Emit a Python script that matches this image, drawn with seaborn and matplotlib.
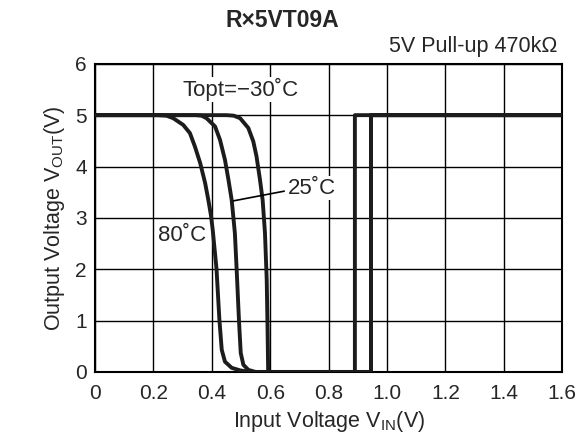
"""Output voltage vs input voltage for R×5VT09A detector."""

import numpy as np
import pandas as pd
import matplotlib
matplotlib.use("Agg")
import matplotlib.pyplot as plt
import seaborn as sns

# Transfer curves (VIN sweep up to 1.6 V)
vin_80 = [0.0, 0.215, 0.245, 0.268, 0.302, 0.325, 0.342, 0.36, 0.377, 0.388, 0.397,
          0.403, 0.416, 0.426, 0.434, 0.445, 0.468, 0.497, 0.53,
          0.89, 0.89, 1.6]
vout_80 = [5.0, 5.0, 4.99, 4.94, 4.81, 4.65, 4.39, 4.07, 3.68, 3.35, 3.05,
           2.77, 2.01, 1.01, 0.43, 0.20, 0.08, 0.03, 0.0,
           0.0, 5.0, 5.0]

vin_25 = [0.0, 0.345, 0.365, 0.382, 0.411, 0.428, 0.445, 0.457, 0.468, 0.474,
          0.479, 0.485, 0.493, 0.499, 0.508, 0.525, 0.55,
          0.945, 0.945, 1.6]
vout_25 = [5.0, 5.0, 4.99, 4.94, 4.78, 4.52, 4.13, 3.74, 3.35, 3.0,
           2.70, 2.0, 1.0, 0.37, 0.14, 0.04, 0.0,
           0.0, 5.0, 5.0]

vin_m30 = [0.0, 0.45, 0.475, 0.497, 0.525, 0.542, 0.553, 0.565, 0.574, 0.582,
           0.588, 0.591, 0.593, 0.945, 0.945, 1.6]
vout_m30 = [5.0, 5.0, 4.99, 4.94, 4.75, 4.49, 4.20, 3.74, 3.35, 2.71,
            1.80, 0.8, 0.0, 0.0, 5.0, 5.0]

x_ticks = [0, 0.2, 0.4, 0.6, 0.8, 1.0, 1.2, 1.4, 1.6]
x_tick_labels = ["0", "0.2", "0.4", "0.6", "0.8", "1.0", "1.2", "1.4", "1.6"]
y_ticks = [0, 1, 2, 3, 4, 5, 6]

df = pd.concat([
    pd.DataFrame({"vin": vin_80, "vout": vout_80, "temp": "80"}),
    pd.DataFrame({"vin": vin_25, "vout": vout_25, "temp": "25"}),
    pd.DataFrame({"vin": vin_m30, "vout": vout_m30, "temp": "-30"}),
], ignore_index=True)

sns.set_style("white")
plt.rcParams["font.family"] = ["Liberation Sans", "DejaVu Sans"]
plt.rcParams["mathtext.fontset"] = "custom"
plt.rcParams["mathtext.rm"] = "Liberation Sans"

fig = plt.figure(figsize=(5.76, 4.34), dpi=100)
ax = fig.add_axes([0.165, 0.143, 0.811, 0.710])

sns.lineplot(
    data=df, x="vin", y="vout", hue="temp", sort=False, estimator=None,
    palette={"80": "#1c1c1c", "25": "#1c1c1c", "-30": "#1c1c1c"},
    linewidth=2.8, legend=False, ax=ax, zorder=3
)

ax.set_xlim(0, 1.6)
ax.set_ylim(0, 6)
ax.set_xticks(x_ticks)
ax.set_xticklabels(x_tick_labels)
ax.set_yticks(y_ticks)
ax.grid(True, color="black", linewidth=1.0)
ax.tick_params(axis="x", length=0, labelsize=15, pad=9)
ax.tick_params(axis="y", length=0, labelsize=15, pad=6)
for spine in ax.spines.values():
    spine.set_color("black")
    spine.set_linewidth(1.5)

ax.set_xlabel(r"Input Voltage V$\mathregular{_{IN}}$(V)", fontsize=15.5, labelpad=4)
ax.set_ylabel(r"Output Voltage V$\mathregular{_{OUT}}$(V)", fontsize=15.5, labelpad=6)

# Curve annotations
ax.text(0.3, 5.5, "Topt=\u221230\u02daC", fontsize=16, va="center", ha="left",
        bbox=dict(facecolor="white", edgecolor="none", pad=1), zorder=4)
ax.text(0.66, 3.58, "25\u02daC", fontsize=16, va="center", ha="left",
        bbox=dict(facecolor="white", edgecolor="none", pad=1), zorder=4)
ax.plot([0.473, 0.648], [3.33, 3.52], color="black", linewidth=1.2, zorder=4)
ax.text(0.215, 2.65, "80\u02daC", fontsize=16, va="center", ha="left",
        bbox=dict(facecolor="white", edgecolor="none", pad=1), zorder=4)

fig.text(0.49, 0.952, "R\u00d75VT09A", fontsize=16.5, fontweight="bold",
         ha="center", va="center")
fig.text(0.967, 0.892, "5V Pull-up 470k\u03a9", fontsize=15.5, ha="right", va="center")

fig.savefig("out.png", dpi=100)
plt.close(fig)
